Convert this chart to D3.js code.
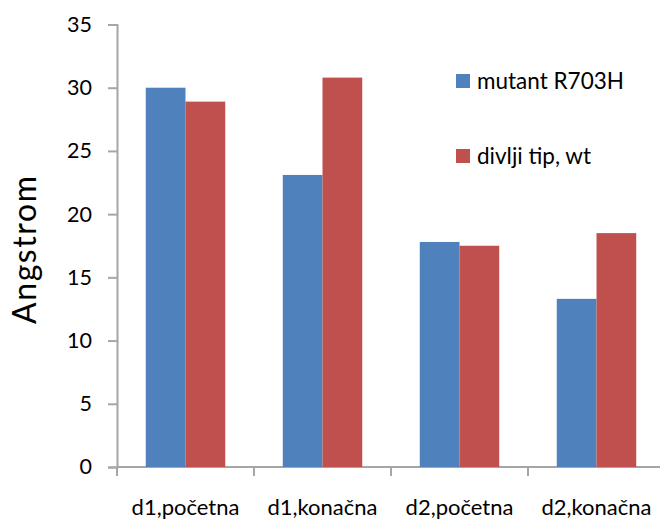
<!DOCTYPE html>
<html>
<head>
<meta charset="utf-8">
<script src="https://cdn.jsdelivr.net/npm/d3@7"></script>
<style>
  html, body { margin: 0; padding: 0; background: #fff; }
  svg text { font-family: Lato, "Open Sans", sans-serif; fill: #000; }
</style>
</head>
<body>
<svg id="chart" width="660" height="519"></svg>
<script>
// Distances in Angstrom for each measurement point
const categories = ["d1,početna", "d1,konačna", "d2,početna", "d2,konačna"];
const seriesNames = ["mutant R703H", "divlji tip, wt"];
const mutantValues = [30.0, 23.1, 17.8, 13.3];
const wildTypeValues = [28.9, 30.8, 17.5, 18.5];
const yTicks = [0, 5, 10, 15, 20, 25, 30, 35];
const colors = ["#4F81BD", "#C0504D"];

const svg = d3.select("#chart");
const margin = { left: 117, right: -5, top: 24.5, bottom: 52 };
const W = 660, H = 519;

const x = d3.scaleBand()
  .domain(categories)
  .range([margin.left, W - margin.right])
  .paddingInner(0.42)
  .paddingOuter(0.21);
const band = d3.scaleBand()
  .domain(seriesNames)
  .range([0, x.bandwidth()]);
const y = d3.scaleLinear()
  .domain([0, 35])
  .range([H - margin.bottom, margin.top]);

const rows = categories.map((c, i) => ({
  cat: c,
  vals: [
    { name: seriesNames[0], v: mutantValues[i], color: colors[0] },
    { name: seriesNames[1], v: wildTypeValues[i], color: colors[1] }
  ]
}));

// Y axis
const yAxis = svg.append("g")
  .attr("transform", `translate(${margin.left},0)`)
  .call(d3.axisLeft(y).tickValues(yTicks).tickSize(9).tickPadding(16).tickFormat(d3.format("d")));
yAxis.select(".domain").attr("stroke", "#a6a6a6").attr("stroke-width", 2);
yAxis.selectAll(".tick line").attr("stroke", "#a6a6a6").attr("stroke-width", 2);
yAxis.selectAll(".tick text").attr("font-size", 21.5).attr("font-family", "Lato, sans-serif").attr("fill", "#000");

// X axis with boundary ticks between categories
const xAxis = svg.append("g")
  .attr("transform", `translate(0,${y(0)})`);
xAxis.append("line")
  .attr("x1", margin.left).attr("x2", W - margin.right)
  .attr("stroke", "#a6a6a6").attr("stroke-width", 2);
const step = x.step();
const boundaries = categories.map((c, i) => x(c) - x.paddingInner() * step / 2);
xAxis.selectAll("line.bt").data(boundaries).join("line")
  .attr("class", "bt")
  .attr("x1", d => d).attr("x2", d => d)
  .attr("y1", 0).attr("y2", 9)
  .attr("stroke", "#a6a6a6").attr("stroke-width", 2);
xAxis.selectAll("text").data(categories).join("text")
  .attr("x", d => x(d) + x.bandwidth() / 2)
  .attr("y", 48)
  .attr("text-anchor", "middle")
  .attr("font-size", 22)
  .text(d => d);

// Bars
const groups = svg.append("g").selectAll("g").data(rows).join("g")
  .attr("transform", d => `translate(${x(d.cat)},0)`);
groups.selectAll("rect").data(d => d.vals).join("rect")
  .attr("x", d => band(d.name))
  .attr("y", d => y(d.v))
  .attr("width", band.bandwidth())
  .attr("height", d => y(0) - y(d.v))
  .attr("fill", d => d.color);

// Legend
const legend = svg.append("g").attr("transform", "translate(456,74)");
const li = legend.selectAll("g").data(seriesNames).join("g")
  .attr("transform", (d, i) => `translate(0,${i * 75})`);
li.append("rect").attr("width", 14).attr("height", 14).attr("fill", (d, i) => colors[i]);
li.append("text").attr("x", 21).attr("y", 14.5).attr("font-size", 22.5).text(d => d);

// Y axis title
svg.append("text")
  .attr("transform", `translate(36,250) rotate(-90)`)
  .attr("text-anchor", "middle")
  .attr("font-size", 32)
  .attr("textLength", 148)
  .attr("lengthAdjust", "spacing")
  .text("Angstrom");
</script>
</body>
</html>
